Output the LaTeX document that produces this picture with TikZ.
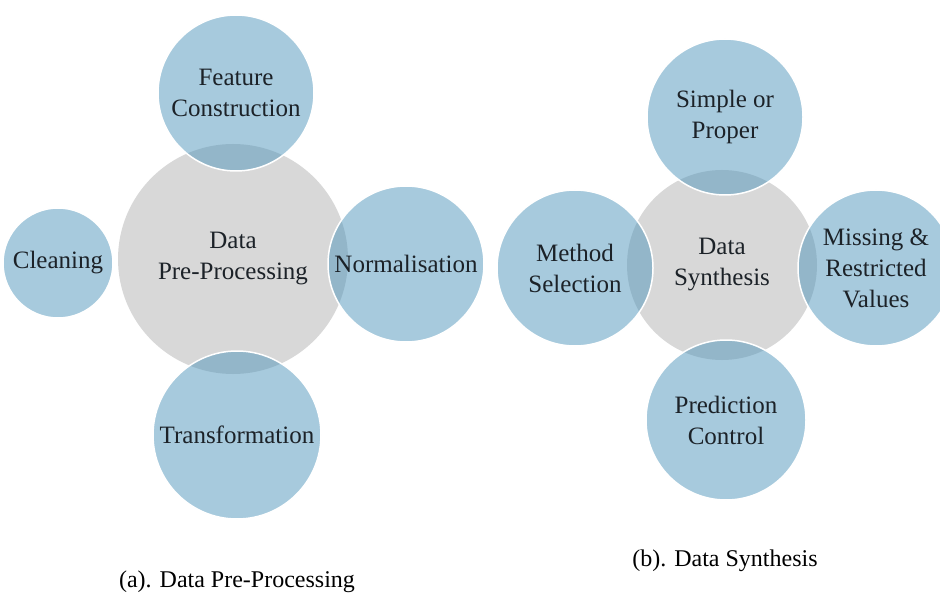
\documentclass[tikz,border=0pt]{standalone}
\usepackage{fontspec}
\setmainfont{Liberation Serif}
\definecolor{bubble}{RGB}{80,150,188}
\definecolor{hub}{RGB}{216,216,216}
\definecolor{ink}{RGB}{28,34,40}
\tikzset{
  every node/.style={font=\fontsize{25}{31}\selectfont, text=ink, align=center},
  hubcircle/.style={circle, fill=hub, inner sep=0pt},
  satellite/.style={circle, fill=bubble, fill opacity=0.5, text opacity=1,
                    draw=white, line width=1.5pt, inner sep=0pt},
  caption/.style={font=\fontsize{24}{30}\selectfont, text=black}
}
\begin{document}
\begin{tikzpicture}[x=1pt, y=-1pt]
  \path[use as bounding box, fill=white] (0,0) rectangle (940,596);

  % (a) data pre-processing
  \node[hubcircle, minimum size=230pt] (pre) at (233,259) {Data\\Pre-Processing};
  \node[satellite, minimum size=156pt] (feat) at (236,93) {Feature\\Construction};
  \node[satellite, minimum size=110pt] (clean) at (58,263) {Cleaning};
  \node[satellite, minimum size=156pt] (norm) at (406,264) {Normalisation};
  \node[satellite, minimum size=168pt] (trans) at (237,435) {Transformation};
  \node[caption] (capa) at (237,582) {(a). Data Pre-Processing};

  % (b) data synthesis
  \node[hubcircle, minimum size=190pt] (syn) at (722,265) {Data\\Synthesis};
  \node[satellite, minimum size=156pt] (simple) at (725,117) {Simple or\\Proper};
  \node[satellite, minimum size=156pt] (method) at (575,268) {Method\\Selection};
  \node[satellite, minimum size=156pt] (missing) at (876,268) {Missing \&\\Restricted\\Values};
  \node[satellite, minimum size=160pt] (pred) at (726,420) {Prediction\\Control};
  \node[caption] (capb) at (725,561) {(b). Data Synthesis};
\end{tikzpicture}
\end{document}
